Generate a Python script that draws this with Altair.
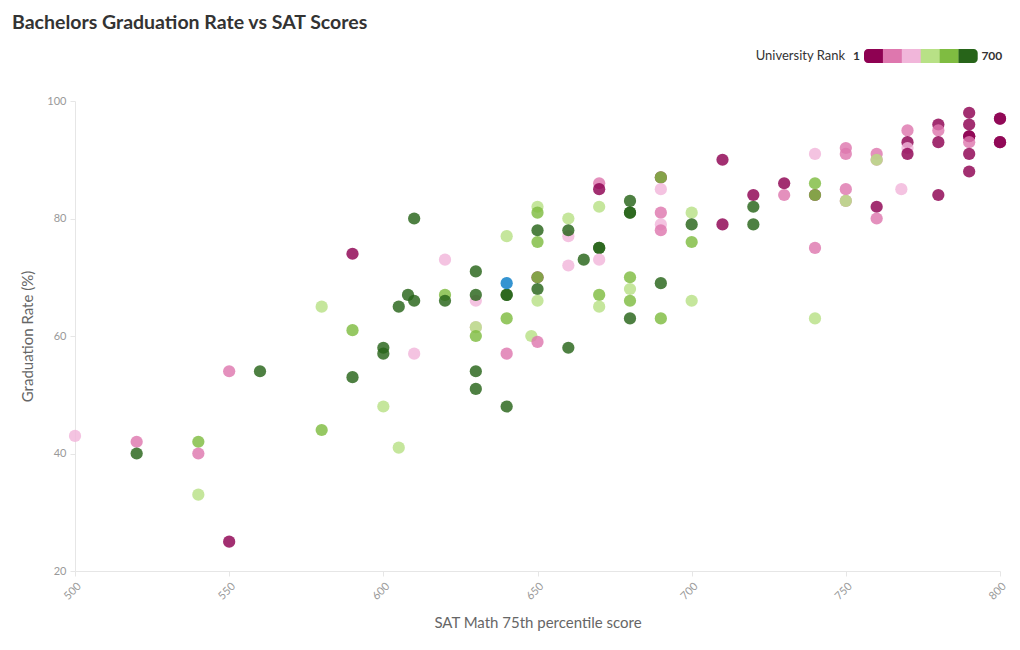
import altair as alt
import pandas as pd

# ---------------- data ----------------
sat_scores = [
    500, 520, 520, 540, 540, 540, 550, 550, 560, 580, 580,
    590, 590, 590, 600, 600, 600, 605, 605, 608, 610, 610, 610,
    620, 620, 620, 630, 630, 630, 630, 630, 630, 630, 630,
    640, 640, 640, 640, 640, 640, 648,
    650, 650, 650, 650, 650, 650, 650, 650, 650,
    660, 660, 660, 660, 660, 665,
    670, 670, 670, 670, 670, 670, 670, 670,
    680, 680, 680, 680, 680, 680, 680,
    690, 690, 690, 690, 690, 690, 690, 690,
    700, 700, 700, 700, 710, 710, 720, 720, 720, 730, 730,
    740, 740, 740, 740, 740, 740,
    750, 750, 750, 750, 750,
    760, 760, 760, 760, 760, 768,
    770, 770, 770, 770, 780, 780, 780, 780,
    790, 790, 790, 790, 790, 790, 790, 800, 800, 800, 800,
]
grad_rates = [
    43, 42, 40, 42, 40, 33, 54, 25, 54, 65, 44,
    74, 61, 53, 58, 57, 48, 65, 41, 67, 80, 66, 57,
    73, 67, 66, 71, 66, 67, 61.5, 61.5, 60, 54, 51,
    77, 67, 67, 63, 57, 48, 60,
    82, 81, 78, 76, 70, 70, 68, 66, 59,
    80, 77, 78, 72, 58, 73,
    86, 85, 82, 75, 75, 73, 67, 65,
    83, 81, 81, 70, 68, 66, 63,
    87, 87, 85, 81, 79, 78, 69, 63,
    81, 79, 76, 66, 90, 79, 84, 82, 79, 86, 84,
    91, 86, 84, 84, 75, 63,
    92, 91, 85, 83, 83,
    91, 90, 90, 82, 80, 85,
    95, 93, 92, 91, 96, 95, 93, 84,
    98, 96, 94, 94, 93, 91, 88, 97, 97, 93, 93,
]
univ_ranks = [
    300, 210, 640, 520, 190, 430, 175, 60, 620, 400, 540,
    80, 500, 660, 610, 680, 440, 630, 455, 600, 650, 670, 320,
    270, 560, 690, 595, 310, 645, 285, 410, 505, 625, 655,
    370, 605, 675, 515, 160, 685, 395,
    365, 480, 615, 525, 95, 545, 635, 385, 205,
    375, 250, 590, 330, 665, 640,
    130, 98, 355, 600, 620, 345, 495, 425,
    585, 612, 648, 475, 445, 535, 660,
    88, 485, 255, 145, 275, 180, 630, 555,
    390, 608, 510, 415, 45, 72, 66, 595, 618, 52, 150,
    245, 490, 75, 530, 195, 435,
    135, 165, 185, 220, 405,
    128, 142, 380, 58, 225, 265,
    120, 35, 240, 44, 18, 122, 28, 83,
    10, 22, 8, 14, 118, 38, 50, 2, 4, 6, 3,
]

# highlighted university (drawn in blue)
highlight_sat = [640]
highlight_rate = [69]

rank_colors = ["#8e0152", "#de77ae", "#f1b6da", "#b8e186", "#7fbc41", "#276419"]
rank_domain = [1, 700]
x_ticks = [500, 550, 600, 650, 700, 750, 800]
y_ticks = [20, 40, 60, 80, 100]

FONT = "Lato"
W, H = 925, 470

df = pd.DataFrame({"sat": sat_scores, "rate": grad_rates, "rank": univ_ranks})
hl = pd.DataFrame({"sat": highlight_sat, "rate": highlight_rate})

x_enc = alt.X(
    "sat:Q",
    scale=alt.Scale(domain=[500, 800], nice=False, zero=False),
    axis=alt.Axis(values=x_ticks, labelAngle=-45, title="SAT Math 75th percentile score",
                  titlePadding=14, labelPadding=4),
)
y_enc = alt.Y(
    "rate:Q",
    scale=alt.Scale(domain=[20, 100], nice=False, zero=False),
    axis=alt.Axis(values=y_ticks, title="Graduation Rate (%)", titlePadding=11, labelPadding=4),
)

points = alt.Chart(df).mark_circle(size=150, opacity=0.82).encode(
    x=x_enc,
    y=y_enc,
    color=alt.Color("rank:Q",
                    scale=alt.Scale(type="quantize", domain=rank_domain, range=rank_colors, nice=False),
                    legend=None),
)

blue = alt.Chart(hl).mark_circle(size=150, opacity=0.9, color="#1f88cc").encode(
    x="sat:Q", y="rate:Q"
)

# ---------------- custom legend (above the plot, right side) ----------------
one = pd.DataFrame({"k": [0]})
sw0, sw_w, ly0, ly1 = 789, 18.9, -52, -38
legend_layers = []
for i, c in enumerate(rank_colors):
    kw = {}
    if i == 0:
        kw = dict(cornerRadiusTopLeft=4, cornerRadiusBottomLeft=4)
    elif i == len(rank_colors) - 1:
        kw = dict(cornerRadiusTopRight=4, cornerRadiusBottomRight=4)
    legend_layers.append(
        alt.Chart(one).mark_rect(color=c, **kw).encode(
            x=alt.value(sw0 + i * sw_w), x2=alt.value(sw0 + (i + 1) * sw_w + 0.3),
            y=alt.value(ly0), y2=alt.value(ly1),
        )
    )
ymid = (ly0 + ly1) / 2
legend_layers.append(
    alt.Chart(one).mark_text(text="University Rank", align="right", baseline="middle",
                             font=FONT, fontSize=13, color="#333").encode(
        x=alt.value(sw0 - 19), y=alt.value(ymid))
)
legend_layers.append(
    alt.Chart(one).mark_text(text="1", align="right", baseline="middle", font=FONT,
                             fontSize=12, fontWeight="bold", color="#333").encode(
        x=alt.value(sw0 - 4), y=alt.value(ymid))
)
legend_layers.append(
    alt.Chart(one).mark_text(text="700", align="left", baseline="middle", font=FONT,
                             fontSize=12, fontWeight="bold", color="#333").encode(
        x=alt.value(sw0 + 6 * sw_w + 4), y=alt.value(ymid))
)

chart = alt.layer(points, blue, *legend_layers).properties(
    width=W,
    height=H,
    autosize=alt.AutoSizeParams(type="none"),
    padding={"left": 67, "top": 93, "right": 12, "bottom": 72},
    title=alt.TitleParams(
        "Bachelors Graduation Rate vs SAT Scores",
        anchor="start", frame="group", fontSize=19.5, fontWeight="bold",
        font=FONT, color="#333", dx=-63, offset=16,
    ),
).configure_view(stroke=None).configure_axis(
    grid=False,
    domainColor="#e6e6e6",
    tickColor="#e6e6e6",
    tickSize=5,
    labelColor="#999",
    labelFontSize=11,
    labelFont=FONT,
    titleFont=FONT,
    titleColor="#666",
    titleFontSize=15,
    titleFontWeight="normal",
)

chart.save("out.html", embed_options={"renderer": "svg", "actions": False})
